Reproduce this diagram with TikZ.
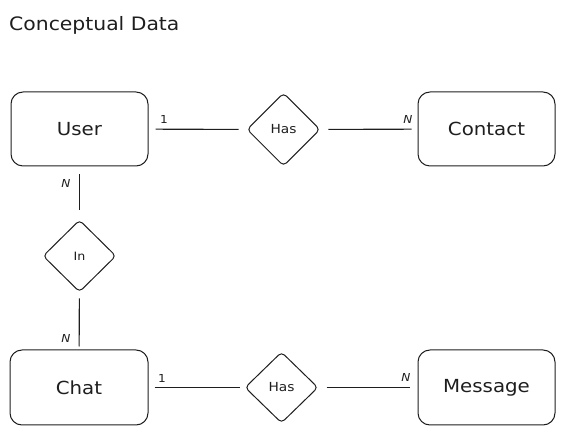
\documentclass[tikz,border=0pt]{standalone}
\usepackage{fontspec}
\setmainfont{DejaVu Sans}[FakeStretch=1.1]
\usetikzlibrary{shapes.geometric}
\definecolor{ink}{HTML}{1E1E1E}
\begin{document}
\begin{tikzpicture}[x=1pt,y=-1pt,
  entity/.style={draw=ink, line width=1pt, rounded corners=12pt,
    minimum width=137pt, minimum height=74pt, inner sep=0pt,
    font=\fontsize{18}{21}\selectfont, text=ink},
  rel/.style={draw=ink, line width=1pt, diamond, rounded corners=4pt,
    minimum width=73pt, minimum height=73pt, inner sep=0pt,
    font=\fontsize{12.5}{15}\selectfont, text=ink},
  link/.style={draw=ink, line width=1.1pt},
  card/.style={font=\fontsize{11}{13}\selectfont, inner sep=0pt, text=ink}]
\useasboundingbox (0,0) rectangle (565,435);

\node[anchor=base west, font=\fontsize{18.5}{22}\selectfont, text=ink, inner sep=0pt] (title) at (9,31) {Conceptual Data};

\node[entity] (user) at (79.5,129) {User};
\node[entity] (contact) at (486.5,129) {Contact};
\node[entity, minimum width=138pt, minimum height=75pt] (chat) at (79,387.5) {Chat};
\node[entity, minimum height=75pt] (message) at (486.5,387.5) {Message};

\node[rel] (has1) at (283.5,129.5) {Has};
\node[rel, minimum height=72pt, font=\fontsize{11.5}{14}\selectfont] (in) at (79.5,256) {In};
\node[rel, minimum height=71pt] (has2) at (281.5,387.5) {Has};

\draw[link, shorten <=7pt, shorten >=8pt] (user) -- (has1);
\draw[link, shorten <=8pt, shorten >=6pt] (has1) -- (contact);
\draw[link, shorten <=8pt, shorten >=9pt] (user) -- (in);
\draw[link, shorten <=6pt, shorten >=3pt] (in) -- (chat);
\draw[link, shorten <=6pt, shorten >=5pt] (chat) -- (has2);
\draw[link, shorten <=8pt, shorten >=8pt] (has2) -- (message);

\node[card] (c1) at (164,119) {1};
\node[card] (c2) at (408,119) {\itshape N};
\node[card] (c3) at (66,183) {\itshape N};
\node[card] (c4) at (66,338) {\itshape N};
\node[card] (c5) at (162,378) {1};
\node[card] (c6) at (406,377) {\itshape N};
\end{tikzpicture}
\end{document}
